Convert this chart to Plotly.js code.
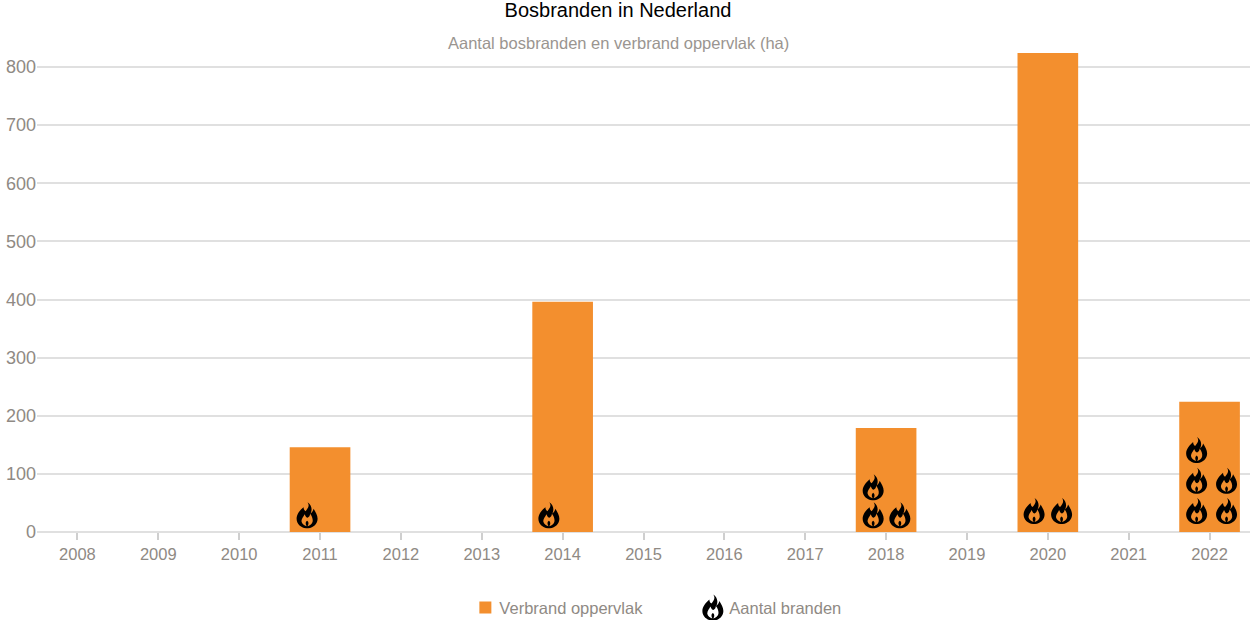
<!DOCTYPE html>
<html>
<head>
<meta charset="utf-8">
<script src="https://cdn.plot.ly/plotly-3.0.1.min.js"></script>
<style>
html,body{margin:0;padding:0;background:#fff;}
#plot{width:1250px;height:620px;}
</style>
</head>
<body>
<div id="plot"></div>
<script>
/*chart data*/
const years=['2008','2009','2010','2011','2012','2013','2014','2015','2016','2017','2018','2019','2020','2021','2022'];
const area=[0,0,0,146,0,0,396,0,0,0,179,0,824,0,224];

/*one entry per flame: position*/
const flameX=[2.84,5.83,9.84,10.17,9.84,11.83,12.17,13.84,14.21,13.84,14.21,13.84];
const flameY=[29,29,29,29,77,36,36,36,36,88,88,141];

const gray='#8f8a84';
const grid='#e0e0e0';
const font='"Liberation Sans", Arial, sans-serif';

/*flame outline with its inner hole, centred on 0,0*/
const flamePath='M0.5,-13C3,-9 0.5,-6.5 -1.5,-4C-3,-5 -3.5,-6.5 -3.5,-8C-7,-5 -10.5,-1 -10.5,3.5C-10.5,8.5 -6.5,12.5 -1,13L1,13C6.5,12.5 10.5,8.5 10.5,3.5C10.5,0 8.5,-3 6.5,-6.5C6,-4.5 5,-3 3.5,-1.5C5.5,-6 4.5,-10 0.5,-13Z'
    +'M-5.5,6.5C-6,3.5 -3.5,1.5 -2.5,-1C-1.5,1.5 -0.5,2.5 0.5,2.5C2,1.5 3,0.5 3,-1.5C5,1 6,4 5.5,6.5C5,8.5 3,10.5 0.5,11C2,8.5 1.5,6.5 0,5.5C-1.5,6.5 -2,8.5 -0.5,11C-3,10.5 -5,8.5 -5.5,6.5Z';

const traces=[
    {
        x: years.map((y,i)=>i),
        y: area,
        type: 'bar',
        name: 'Verbrand oppervlak',
        width: 0.75,
        marker: {color: '#f38f2e'},
        hoverinfo: 'skip'
    },
    {
        x: flameX,
        y: flameY,
        type: 'scatter',
        mode: 'markers',
        name: 'Aantal branden',
        marker: {color: '#000', size: 20, symbol: 'circle'},
        hoverinfo: 'skip'
    }
];

const layout={
    width: 1250,
    height: 620,
    paper_bgcolor: '#fff',
    plot_bgcolor: '#fff',
    font: {family: font, color: gray, size: 16},
    showlegend: true,
    margin: {l: 37, r: 0, t: 30, b: 88, pad: 0, autoexpand: false},
    title: {
        text: 'Bosbranden in Nederland',
        font: {family: font, size: 20, color: '#000'},
        xref: 'paper', yref: 'container',
        x: 0.479, xanchor: 'center',
        y: 0.984, yanchor: 'middle'
    },
    annotations: [{
        text: 'Aantal bosbranden en verbrand oppervlak (ha)',
        xref: 'paper', yref: 'paper',
        x: 0.479, xanchor: 'center',
        y: 0.974, yanchor: 'middle',
        showarrow: false,
        font: {family: font, size: 16.5, color: '#9a9590'}
    }],
    xaxis: {
        type: 'linear',
        range: [-0.5,14.5],
        tickmode: 'array',
        tickvals: years.map((y,i)=>i),
        ticktext: years,
        ticks: 'outside',
        ticklen: 7,
        tickwidth: 2,
        tickcolor: '#cfcfcf',
        showgrid: false,
        zeroline: false,
        showline: false,
        tickfont: {family: font, size: 16.5, color: gray}
    },
    yaxis: {
        range: [0,863.7],
        tickmode: 'array',
        tickvals: [0,100,200,300,400,500,600,700,800],
        showgrid: true,
        gridcolor: grid,
        gridwidth: 2,
        zeroline: true,
        zerolinecolor: grid,
        zerolinewidth: 2,
        ticks: '',
        tickfont: {family: font, size: 18, color: gray}
    },
    legend: {
        orientation: 'h',
        xref: 'paper', yref: 'paper',
        x: 0.3482, xanchor: 'left',
        y: -0.151, yanchor: 'middle',
        entrywidth: 185,
        entrywidthmode: 'pixels',
        font: {family: font, size: 16.5, color: gray},
        itemclick: false,
        itemdoubleclick: false
    }
};

/*plotly has no flame symbol, so the circle markers get the flame outline*/
function flames(){
    document.querySelectorAll('#plot .scatterlayer path.point, #plot .legend .legendpoints path.scatterpts').forEach(function(p){
        p.setAttribute('d',flamePath);
        p.style.fillRule='evenodd';
    });
    /*legend symbols sit closer to their text than plotly allows*/
    const shift=[6,3.5];
    document.querySelectorAll('#plot .legend .legendsymbols').forEach(function(s,i){
        s.setAttribute('transform','translate('+shift[i]+',0)');
    });
}

Plotly.newPlot('plot',traces,layout,{displayModeBar:false}).then(function(gd){
    flames();
    gd.on('plotly_afterplot',flames);
});
</script>
</body>
</html>
